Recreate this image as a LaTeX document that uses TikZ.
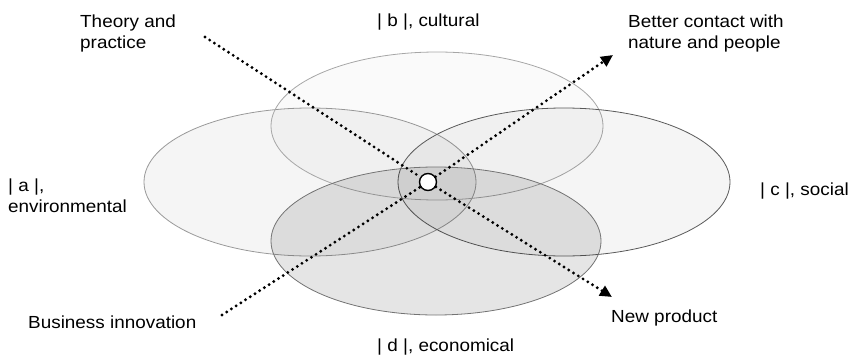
\documentclass[tikz,border=0pt]{standalone}
\usepackage{fontspec}
\setmainfont{Liberation Sans}[FakeStretch=1.08]
\usetikzlibrary{arrows.meta}
\tikzset{
  lbl/.style={inner sep=0pt, font=\fontsize{17.5}{21}\selectfont, align=left},
  ell/.style={line width=0.8pt, fill=black},
  dotline/.style={line width=3.2pt, line cap=round, dash pattern=on 0pt off 5.6pt},
  tip/.style={-{Triangle[length=12pt,width=11pt]}},
}
\begin{document}
\begin{tikzpicture}[x=1pt,y=-1pt]
\useasboundingbox (0,0) rectangle (851,356);
% ellipses
\path[ell, draw=black!40, fill opacity=0.04] (310,182) ellipse [x radius=166pt, y radius=74pt];
\path[ell, draw=black!35, fill opacity=0.02] (437,126) ellipse [x radius=166pt, y radius=74pt];
\path[ell, draw=black!65, fill opacity=0.04] (564,182) ellipse [x radius=166pt, y radius=74pt];
\path[ell, draw=black!55, fill opacity=0.10] (436,241) ellipse [x radius=165pt, y radius=74pt];
% points
\coordinate (T) at (205,37);
\coordinate (BI) at (222,315);
\coordinate (NP) at (612,297);
\coordinate (BC) at (613,55);
\node[circle, draw=black, line width=1.4pt, fill=white, minimum size=17pt, inner sep=0pt] (O) at (428,182) {};
% dotted connectors
\draw[dotline] (T) -- (O);
\draw[dotline] (BI) -- (O);
\draw[dotline, tip] (O) -- (NP);
\draw[dotline, tip] (O) -- (BC);
% labels
\node[lbl, anchor=north west] (ltp) at (80,15) {Theory and\\practice};
\node[lbl, anchor=base west] (lb) at (377,27) {| b |, cultural};
\node[lbl, anchor=north west] (lbc) at (628,15) {Better contact with\\nature and people};
\node[lbl, anchor=north west] (la) at (8,179) {| a |,\\environmental};
\node[lbl, anchor=base west] (lc) at (760,195) {| c |, social};
\node[lbl, anchor=base west] (lbi) at (28,328) {Business innovation};
\node[lbl, anchor=base west] (lnp) at (611,322) {New product};
\node[lbl, anchor=base west] (ld) at (377,351) {| d |, economical};
\end{tikzpicture}
\end{document}
